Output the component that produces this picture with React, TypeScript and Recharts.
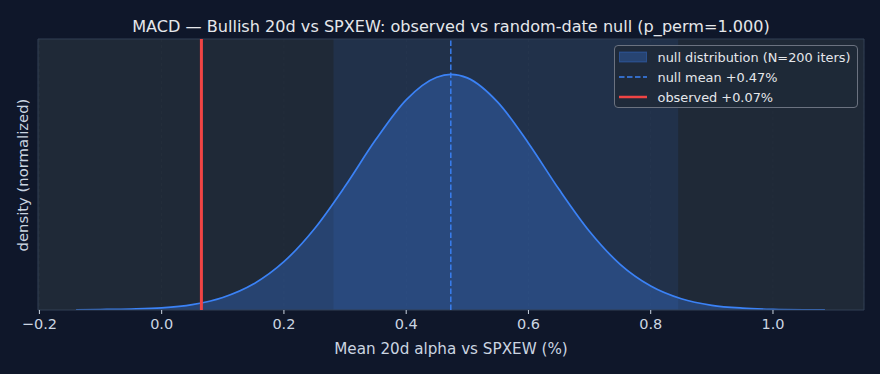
import React from "react";
import {
  ComposedChart,
  Area,
  XAxis,
  YAxis,
  CartesianGrid,
  ReferenceLine,
  ReferenceArea,
} from "recharts";

// x positions (Mean 20d alpha vs SPXEW, %)
const alphaGrid = [
  -0.14, -0.1, -0.05, 0.0, 0.05, 0.1, 0.15, 0.2, 0.25, 0.3, 0.35, 0.4, 0.45, 0.473,
  0.5, 0.55, 0.6, 0.65, 0.7, 0.75, 0.8, 0.85, 0.9, 0.95, 1.0, 1.05, 1.085,
];
// normalized density of the null distribution
const nullDensity = [
  0.001, 0.002, 0.004, 0.009, 0.023, 0.053, 0.11, 0.205, 0.345, 0.525, 0.722, 0.892, 0.988, 1.0,
  0.985, 0.881, 0.708, 0.512, 0.333, 0.194, 0.102, 0.048, 0.02, 0.008, 0.003, 0.001, 0.0005,
];
const xTicks = [-0.2, 0.0, 0.2, 0.4, 0.6, 0.8, 1.0];
const nullMean = 0.473;
const observed = 0.065;
const bandLow = 0.281;
const bandHigh = 0.845;
const xDomain = [-0.2023, 1.1489];
const yDomain = [0, 1.15];

const titleText =
  "MACD \u2014 Bullish 20d vs SPXEW: observed vs random-date null (p_perm=1.000)";
const xLabel = "Mean 20d alpha vs SPXEW (%)";
const yLabel = "density (normalized)";
const legendItems = [
  "null distribution (N=200 iters)",
  "null mean +0.47%",
  "observed +0.07%",
];

const data = alphaGrid.map((x, i) => ({ x, d: nullDensity[i] }));

const FONT = "'DejaVu Sans', sans-serif";
const BLUE = "#3b82f6";
const RED = "#ef4444";

const fmt = (v: number) => {
  const s = Math.abs(v).toFixed(1);
  return v < 0 ? "\u2212" + s : s;
};

export default function App() {
  return (
    <div
      style={{
        position: "absolute",
        left: 0,
        top: 0,
        width: 880,
        height: 374,
        background: "#0f172a",
        fontFamily: FONT,
        overflow: "hidden",
      }}
    >
      <div
        style={{
          position: "absolute",
          left: 38,
          width: 826,
          top: 15.5,
          textAlign: "center",
          color: "#e5e7eb",
          fontSize: 16.1,
          lineHeight: "22px",
        }}
      >
        {titleText}
      </div>
      <div
        style={{
          position: "absolute",
          left: 23 - 100,
          top: 174.5 - 10,
          width: 200,
          height: 20,
          lineHeight: "20px",
          textAlign: "center",
          transform: "rotate(-90deg)",
          color: "#cbd5e1",
          fontSize: 14.8,
        }}
      >
        {yLabel}
      </div>
      <div
        style={{
          position: "absolute",
          left: 38,
          width: 826,
          top: 339,
          lineHeight: "20px",
          textAlign: "center",
          color: "#cbd5e1",
          fontSize: 15.2,
        }}
      >
        {xLabel}
      </div>
      <div style={{ position: "absolute", left: 0, top: 0 }}>
        <ComposedChart
          width={880}
          height={374}
          data={data}
          margin={{ top: 39, right: 16, bottom: 34, left: 38 }}
        >
          <CartesianGrid
            horizontal={false}
            vertical={true}
            fill="#1f2937"
            stroke="#ffffff"
            strokeOpacity={0.025}
            strokeDasharray="3 3"
          />
          <XAxis
            dataKey="x"
            type="number"
            domain={xDomain}
            allowDataOverflow
            ticks={xTicks}
            tickFormatter={fmt}
            height={30}
            tickSize={4}
            tickLine={{ stroke: "#cbd5e1" }}
            axisLine={false}
            tick={{ fill: "#cbd5e1", fontSize: 14.5, fontFamily: FONT }}
            tickMargin={5}
          />
          <YAxis hide type="number" domain={yDomain} allowDataOverflow />
          <ReferenceArea
            x1={bandLow}
            x2={bandHigh}
            y1={yDomain[0]}
            y2={yDomain[1]}
            fill={BLUE}
            fillOpacity={0.1}
            stroke="none"
            ifOverflow="visible"
          />
          <Area
            type="monotone"
            dataKey="d"
            stroke={BLUE}
            strokeWidth={1.7}
            fill={BLUE}
            fillOpacity={0.3}
            isAnimationActive={false}
            dot={false}
            activeDot={false}
          />
          <ReferenceLine
            x={nullMean}
            stroke={BLUE}
            strokeWidth={1.4}
            strokeDasharray="5.5 2.5"
          />
          <ReferenceLine x={observed} stroke={RED} strokeWidth={3} />
          <ReferenceArea
            x1={xDomain[0]}
            x2={xDomain[1]}
            y1={yDomain[0]}
            y2={yDomain[1]}
            fill="none"
            stroke="#334155"
            strokeWidth={1}
            ifOverflow="visible"
          />
        </ComposedChart>
      </div>
      <div
        style={{
          position: "absolute",
          left: 613.5,
          top: 44.5,
          width: 244,
          height: 63,
          boxSizing: "border-box",
          border: "1px solid #6b7280",
          borderRadius: 4,
          background: "rgba(31,41,55,0.82)",
          color: "#e5e7eb",
          fontSize: 12.9,
        }}
      >
        {legendItems.map((label, i) => (
          <div
            key={label}
            style={{
              position: "absolute",
              left: 4,
              top: 2.5 + i * 20,
              height: 18,
              display: "flex",
              alignItems: "center",
            }}
          >
            <svg width={28} height={12} style={{ marginRight: 11 }}>
              {i === 0 && (
                <rect
                  x={0.5}
                  y={1}
                  width={27}
                  height={10}
                  fill={BLUE}
                  fillOpacity={0.3}
                  stroke={BLUE}
                  strokeOpacity={0.35}
                />
              )}
              {i === 1 && (
                <line
                  x1={0}
                  x2={28}
                  y1={6}
                  y2={6}
                  stroke={BLUE}
                  strokeWidth={1.5}
                  strokeDasharray="5.5 2.5"
                />
              )}
              {i === 2 && (
                <line x1={0} x2={28} y1={6} y2={6} stroke={RED} strokeWidth={2.5} />
              )}
            </svg>
            <span style={{ whiteSpace: "nowrap" }}>{label}</span>
          </div>
        ))}
      </div>
    </div>
  );
}
